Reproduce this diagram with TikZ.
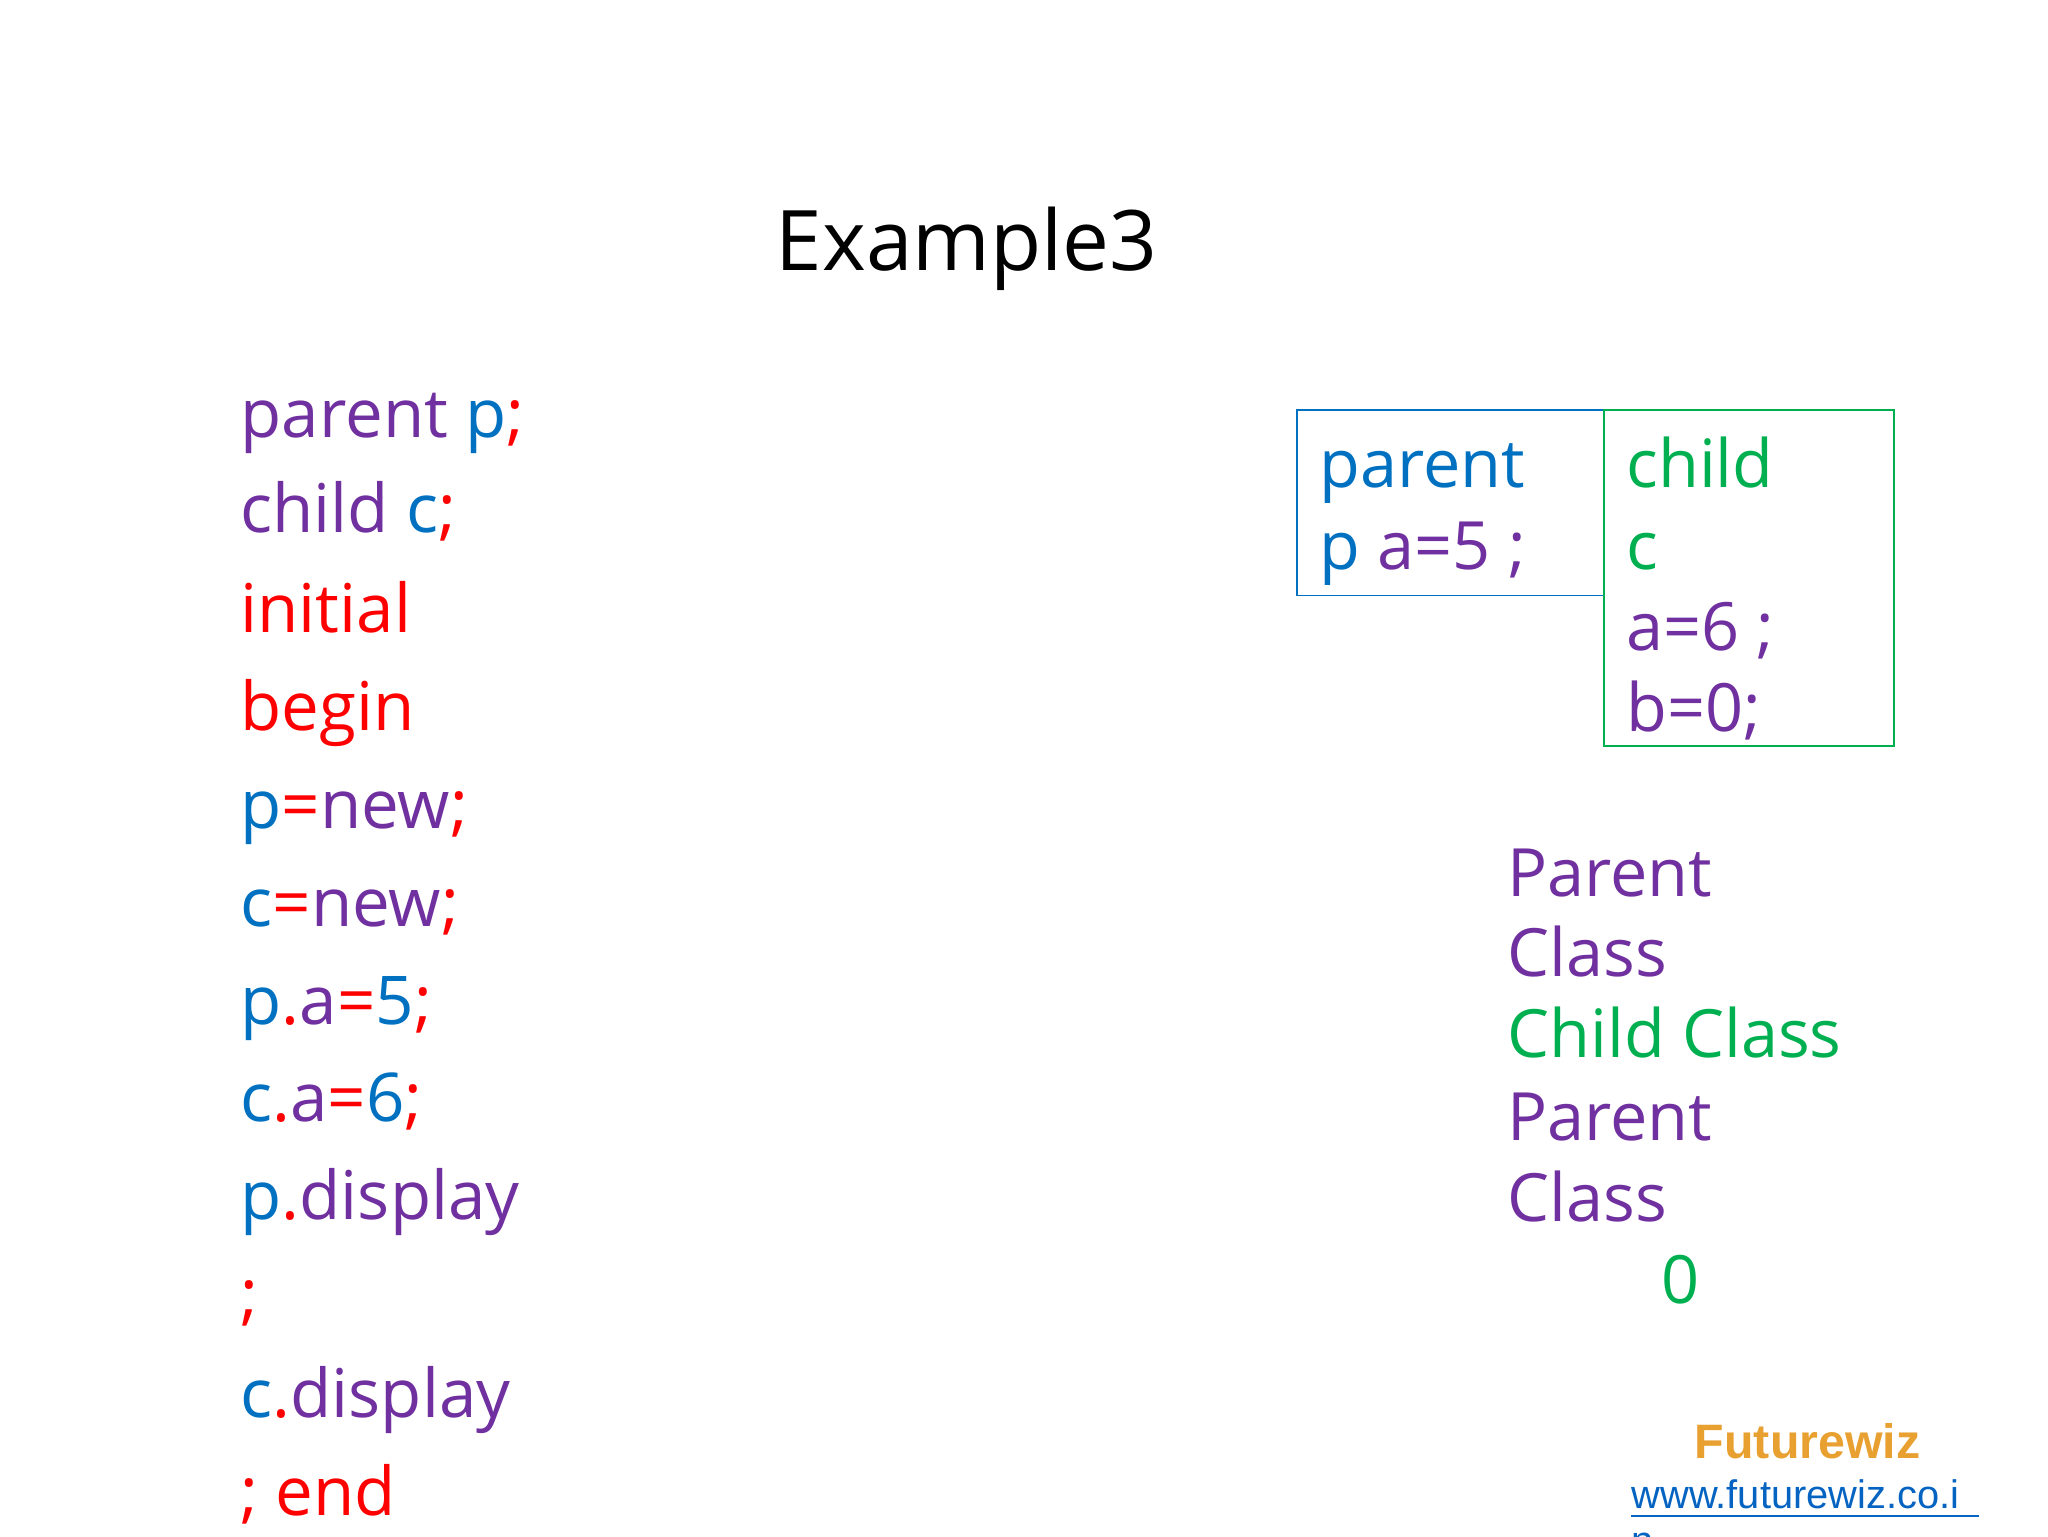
\documentclass[tikz,border=0pt]{standalone}
\usepackage{fontspec}
\setmainfont{Open Sans}
\newfontfamily\arialf{Liberation Sans}
\definecolor{pu}{RGB}{112,48,160}
\definecolor{bl}{RGB}{0,112,192}
\definecolor{rd}{RGB}{255,0,0}
\definecolor{gr}{RGB}{0,176,80}
\definecolor{og}{RGB}{232,160,48}
\definecolor{lk}{RGB}{5,99,193}
\begin{document}
\begin{tikzpicture}[x=1pt,y=-1pt,
  code/.style={anchor=base west,inner sep=0pt,font=\fontsize{51.5}{60}\selectfont},
  outtxt/.style={anchor=base west,inner sep=0pt,font=\fontsize{51}{60}\selectfont}]
\useasboundingbox (0,0) rectangle (1568,1176);
\clip (0,0) rectangle (1568,1176);
\node[anchor=base,inner sep=0pt,font=\fontsize{64}{70}\selectfont] (title) at (740,207) {Example3};
\node[code] (l1) at (184,335) {\color{pu}parent \color{bl}p\color{rd};};
\node[code] (l2) at (184,408) {\color{pu}child \color{bl}c\color{rd};};
\node[code,text=rd] (l3) at (184,484) {initial};
\node[code,text=rd] (l4) at (184,559) {begin};
\node[code] (l5) at (184,634) {\color{bl}p\color{rd}=\color{pu}new\color{rd};};
\node[code] (l6) at (184,709) {\color{bl}c\color{rd}=\color{pu}new\color{rd};};
\node[code] (l7) at (184,784) {\color{bl}p\color{rd}.\color{pu}a\color{rd}=\color{bl}5\color{rd};};
\node[code] (l8) at (184,859) {\color{bl}c\color{rd}.\color{pu}a\color{rd}=\color{bl}6\color{rd};};
\node[code] (l9) at (184,934) {\color{bl}p\color{rd}.\color{pu}display};
\node[code,text=rd] (l10) at (184,1009) {;};
\node[code] (l11) at (184,1085) {\color{bl}c\color{rd}.\color{pu}display};
\node[code,text=rd] (l12) at (184,1160) {; end};
\draw[bl,line width=1.3] (993,314) rectangle (1228,456);
\draw[gr,line width=1.3] (1228,314) rectangle (1450,571);
\node[outtxt,text=bl] (b1) at (1010,373) {parent};
\node[outtxt] (b2) at (1010,436) {\color{bl}p \color{pu}a=5 ;};
\node[outtxt,text=gr] (c1) at (1245,373) {child};
\node[outtxt,text=gr] (c2) at (1245,436) {c};
\node[outtxt,text=pu] (c3) at (1245,498) {a=6 ;};
\node[outtxt,text=pu] (c4) at (1245,560) {b=0;};
\node[outtxt,text=pu] (o1) at (1154,686) {Parent};
\node[outtxt,text=pu] (o2) at (1154,748) {Class};
\node[outtxt,text=gr] (o3) at (1154,810) {Child Class};
\node[outtxt,text=pu] (o4) at (1154,873) {Parent};
\node[outtxt,text=pu] (o5) at (1154,935) {Class};
\node[outtxt,text=gr] (o6) at (1272,998) {0};
\node[anchor=base,inner sep=0pt,text=og,font=\arialf\bfseries\fontsize{37}{40}\selectfont] (fw) at (1384,1117) {Futurewiz};
\node[anchor=base west,inner sep=0pt,text=lk,font=\arialf\fontsize{30.5}{34}\selectfont] (url) at (1249,1155) {www.futurewiz.co.i};
\draw[lk,line width=1.5] (url.base west) ++(0,6) -- ++(266,0);
\node[anchor=base west,inner sep=0pt,text=lk,font=\arialf\fontsize{30.5}{34}\selectfont] (url2) at (1249,1190) {n};
\end{tikzpicture}
\end{document}
